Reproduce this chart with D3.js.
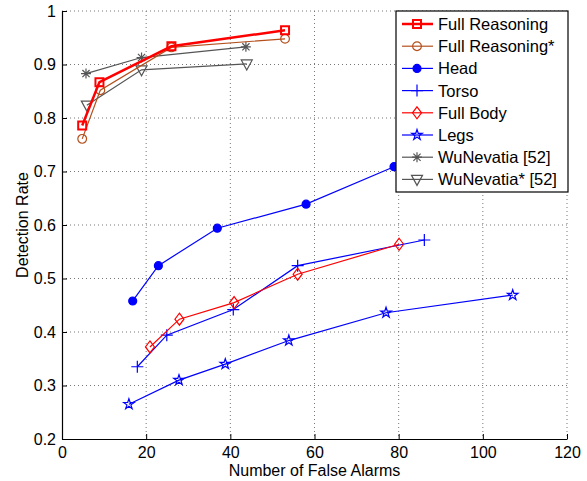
<!DOCTYPE html>
<html>
<head>
<meta charset="utf-8">
<script src="https://cdn.jsdelivr.net/npm/d3@7"></script>
<style>
  body { margin: 0; background: #fff; }
  text { font-family: "Liberation Sans", Arial, sans-serif; }
</style>
</head>
<body>
<div id="chart"></div>
<script>
// values
var xTicks = [0, 20, 40, 60, 80, 100, 120];
var yTicks = [0.2, 0.3, 0.4, 0.5, 0.6, 0.7, 0.8, 0.9, 1];

var fullReasoningX = [4.8, 8.9, 26, 53];
var fullReasoningY = [0.786, 0.867, 0.934, 0.964];
var fullReasoningStarX = [4.8, 9.1, 26, 53];
var fullReasoningStarY = [0.761, 0.852, 0.932, 0.948];
var headX = [16.8, 22.9, 36.9, 58.0, 78.9];
var headY = [0.458, 0.524, 0.594, 0.639, 0.709];
var torsoX = [17.9, 24.9, 40.7, 56.0, 86.1];
var torsoY = [0.335, 0.394, 0.442, 0.524, 0.572];
var fullBodyX = [20.9, 27.9, 40.9, 56.0, 80.1];
var fullBodyY = [0.372, 0.424, 0.455, 0.508, 0.564];
var legsX = [15.9, 27.8, 38.8, 53.9, 77.0, 107.1];
var legsY = [0.265, 0.310, 0.340, 0.384, 0.436, 0.469];
var wuX = [5.7, 18.9, 43.7];
var wuY = [0.883, 0.913, 0.933];
var wuStarX = [5.9, 18.9, 43.9];
var wuStarY = [0.824, 0.890, 0.901];

var seriesNames = ["Full Reasoning", "Full Reasoning*", "Head", "Torso", "Full Body", "Legs", "WuNevatia [52]", "WuNevatia* [52]"];

function zip(xs, ys) { return xs.map(function(x, i) { return [x, ys[i]]; }); }

var series = [
  {name: seriesNames[0], pts: zip(fullReasoningX, fullReasoningY), color: "#ff0000", width: 2.5, marker: "square"},
  {name: seriesNames[1], pts: zip(fullReasoningStarX, fullReasoningStarY), color: "#b4501e", width: 1.2, marker: "circle"},
  {name: seriesNames[2], pts: zip(headX, headY), color: "#0000ff", width: 1.2, marker: "dot"},
  {name: seriesNames[3], pts: zip(torsoX, torsoY), color: "#0000ff", width: 1.2, marker: "plus"},
  {name: seriesNames[4], pts: zip(fullBodyX, fullBodyY), color: "#ff0000", width: 1.2, marker: "diamond"},
  {name: seriesNames[5], pts: zip(legsX, legsY), color: "#0000ff", width: 1.2, marker: "star"},
  {name: seriesNames[6], pts: zip(wuX, wuY), color: "#555555", width: 1.2, marker: "asterisk"},
  {name: seriesNames[7], pts: zip(wuStarX, wuStarY), color: "#555555", width: 1.2, marker: "triangle"}
];

var width = 587, height = 481;
var plotLeft = 62, plotRight = 567, plotTop = 11, plotBottom = 439;

var svg = d3.select("#chart").append("svg")
    .attr("width", width)
    .attr("height", height);

var x = d3.scaleLinear().domain([0, 120]).range([plotLeft, plotRight]);
var y = d3.scaleLinear().domain([0.2, 1]).range([plotBottom, plotTop]);

// dotted grid
svg.append("g").selectAll("line")
    .data(xTicks.slice(1))
    .enter().append("line")
    .attr("x1", d => x(d)).attr("x2", d => x(d))
    .attr("y1", plotTop).attr("y2", plotBottom)
    .attr("stroke", "#777").attr("stroke-width", 1)
    .attr("stroke-dasharray", "1,3");
svg.append("g").selectAll("line")
    .data(yTicks.slice(1))
    .enter().append("line")
    .attr("x1", plotLeft).attr("x2", plotRight)
    .attr("y1", d => y(d)).attr("y2", d => y(d))
    .attr("stroke", "#777").attr("stroke-width", 1)
    .attr("stroke-dasharray", "1,3");

// axes with inward ticks
var xAxis = svg.append("g")
    .attr("transform", "translate(0," + plotBottom + ")")
    .call(d3.axisBottom(x).tickValues(xTicks).tickSizeInner(-5).tickSizeOuter(0).tickPadding(8));
var yAxis = svg.append("g")
    .attr("transform", "translate(" + plotLeft + ",0)")
    .call(d3.axisLeft(y).tickValues(yTicks).tickFormat(d3.format("")).tickSizeInner(-5).tickSizeOuter(0).tickPadding(6));
[xAxis, yAxis].forEach(function(a) {
  a.select(".domain").attr("stroke", "#000").attr("stroke-width", 1.2);
  a.selectAll(".tick line").attr("stroke", "#000");
  a.selectAll("text").attr("font-size", 16).attr("fill", "#000")
    .style("font-family", "'Liberation Sans', Arial, sans-serif");
});

svg.append("text")
    .attr("x", (plotLeft + plotRight) / 2).attr("y", 476)
    .attr("text-anchor", "middle").attr("font-size", 16)
    .text("Number of False Alarms");
svg.append("text")
    .attr("transform", "translate(28," + (plotTop + plotBottom) / 2 + ") rotate(-90)")
    .attr("text-anchor", "middle").attr("font-size", 16)
    .text("Detection Rate");

function markerPath(type) {
  switch (type) {
    case "square": return "M-4,-4H4V4H-4Z";
    case "circle": return d3.symbol(d3.symbolCircle, 60)();
    case "dot": return d3.symbol(d3.symbolCircle, 50)();
    case "plus": return "M-6,0H6M0,-6V6";
    case "diamond": return "M0,-6L4.5,0L0,6L-4.5,0Z";
    case "star": return d3.symbol(d3.symbolStar, 34)();
    case "asterisk": return "M-5,0H5M0,-5V5M-3.6,-3.6L3.6,3.6M-3.6,3.6L3.6,-3.6";
    case "triangle": return "M-5.5,-4H5.5L0,6Z";
  }
}

function drawMarker(g, s) {
  var filled = s.marker === "dot";
  g.append("path")
    .attr("d", markerPath(s.marker))
    .attr("fill", filled ? s.color : "none")
    .attr("stroke", s.color)
    .attr("stroke-width", s.marker === "square" ? 2 : 1.2);
}

var line = d3.line().x(d => x(d[0])).y(d => y(d[1]));

var drawOrder = [7, 6, 2, 3, 4, 5, 1, 0];
drawOrder.forEach(function(i) {
  var s = series[i];
  var g = svg.append("g");
  g.append("path")
    .attr("d", line(s.pts))
    .attr("fill", "none")
    .attr("stroke", s.color)
    .attr("stroke-width", s.width);
  g.selectAll("g.m")
    .data(s.pts)
    .enter().append("g")
    .attr("class", "m")
    .attr("transform", d => "translate(" + x(d[0]) + "," + y(d[1]) + ")")
    .each(function() { drawMarker(d3.select(this), s); });
});

// legend
var lx = 396, ly = 11, lw = 172, lh = 181;
var legend = svg.append("g");
legend.append("rect")
    .attr("x", lx).attr("y", ly).attr("width", lw).attr("height", lh)
    .attr("fill", "#fff").attr("stroke", "#000").attr("stroke-width", 1.2);
series.forEach(function(s, i) {
  var yy = ly + 13 + i * 22.2;
  var row = legend.append("g");
  row.append("line")
    .attr("x1", lx + 6).attr("x2", lx + 37)
    .attr("y1", yy).attr("y2", yy)
    .attr("stroke", s.color).attr("stroke-width", s.width);
  var m = row.append("g").attr("transform", "translate(" + (lx + 21) + "," + yy + ")");
  drawMarker(m, s);
  row.append("text")
    .attr("x", lx + 42).attr("y", yy + 6)
    .attr("font-size", 16.5)
    .text(s.name);
});
</script>
</body>
</html>
